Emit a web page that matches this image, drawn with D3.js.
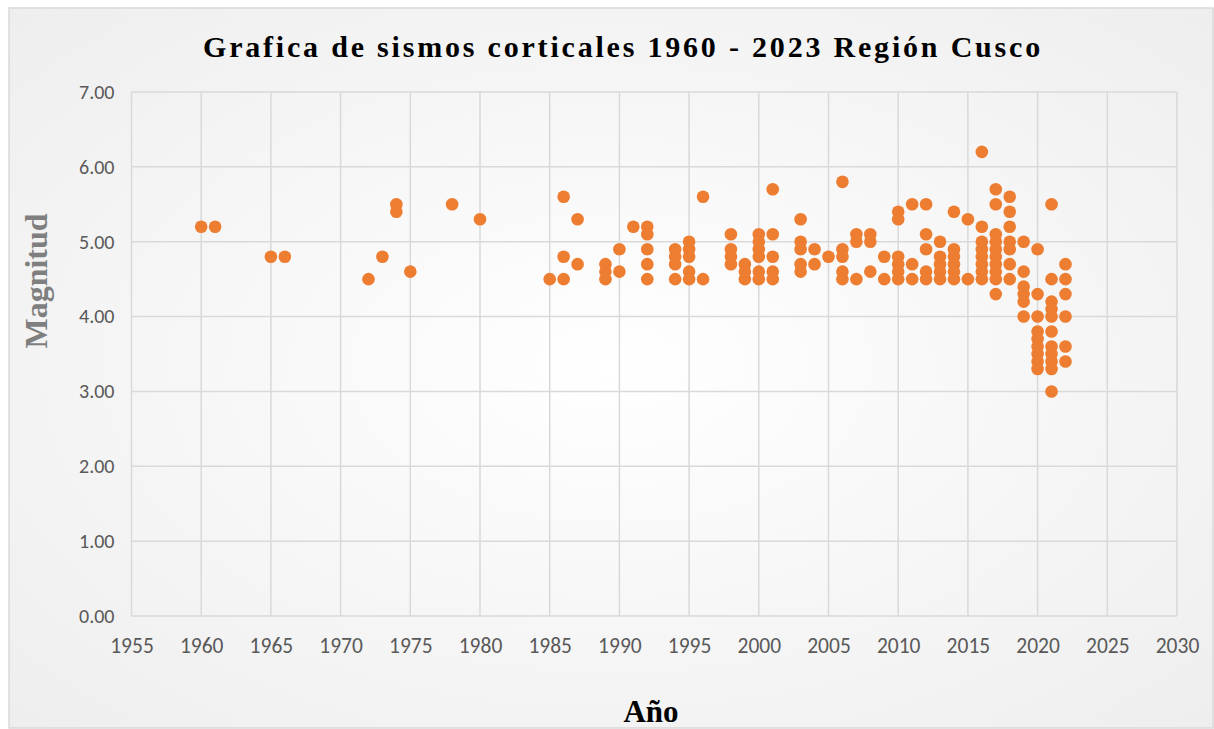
<!DOCTYPE html>
<html>
<head>
<meta charset="utf-8">
<script src="https://cdn.jsdelivr.net/npm/d3@7"></script>
<style>
  html, body { margin: 0; padding: 0; background: #fff; }
  svg { display: block; }
</style>
</head>
<body>
<svg id="chart"></svg>
<script>
// año y magnitud de cada sismo
const years = [
  1960, 1961, 1965, 1966, 1972, 1973, 1974, 1974, 1975, 1978, 1980,
  1985, 1986, 1986, 1986, 1987, 1987, 1989, 1989, 1989, 1990, 1990, 1991,
  1992, 1992, 1992, 1992, 1992, 1994, 1994, 1994, 1994,
  1995, 1995, 1995, 1995, 1995, 1996, 1996,
  1998, 1998, 1998, 1998, 1999, 1999, 1999,
  2000, 2000, 2000, 2000, 2000, 2000, 2001, 2001, 2001, 2001, 2001,
  2003, 2003, 2003, 2003, 2003, 2004, 2004, 2005,
  2006, 2006, 2006, 2006, 2006, 2007, 2007, 2007, 2008, 2008, 2008, 2009, 2009,
  2010, 2010, 2010, 2010, 2010, 2010, 2011, 2011, 2011,
  2012, 2012, 2012, 2012, 2012, 2013, 2013, 2013, 2013, 2013,
  2014, 2014, 2014, 2014, 2014, 2014, 2015, 2015,
  2016, 2016, 2016, 2016, 2016, 2016, 2016, 2016,
  2017, 2017, 2017, 2017, 2017, 2017, 2017, 2017, 2017, 2017,
  2018, 2018, 2018, 2018, 2018, 2018, 2018,
  2019, 2019, 2019, 2019, 2019, 2019,
  2020, 2020, 2020, 2020, 2020, 2020, 2020, 2020, 2020,
  2021, 2021, 2021, 2021, 2021, 2021, 2021, 2021, 2021, 2021, 2021,
  2022, 2022, 2022, 2022, 2022, 2022
];
const magnitudes = [
  5.2, 5.2, 4.8, 4.8, 4.5, 4.8, 5.5, 5.4, 4.6, 5.5, 5.3,
  4.5, 5.6, 4.8, 4.5, 5.3, 4.7, 4.7, 4.6, 4.5, 4.9, 4.6, 5.2,
  5.2, 5.1, 4.9, 4.7, 4.5, 4.9, 4.8, 4.7, 4.5,
  5.0, 4.9, 4.8, 4.6, 4.5, 5.6, 4.5,
  5.1, 4.9, 4.8, 4.7, 4.7, 4.6, 4.5,
  5.1, 5.0, 4.9, 4.8, 4.6, 4.5, 5.7, 5.1, 4.8, 4.6, 4.5,
  5.3, 5.0, 4.9, 4.7, 4.6, 4.9, 4.7, 4.8,
  5.8, 4.9, 4.8, 4.6, 4.5, 5.1, 5.0, 4.5, 5.1, 5.0, 4.6, 4.8, 4.5,
  5.4, 5.3, 4.8, 4.7, 4.6, 4.5, 5.5, 4.7, 4.5,
  5.5, 5.1, 4.9, 4.6, 4.5, 5.0, 4.8, 4.7, 4.6, 4.5,
  5.4, 4.9, 4.8, 4.7, 4.6, 4.5, 5.3, 4.5,
  6.2, 5.2, 5.0, 4.9, 4.8, 4.7, 4.6, 4.5,
  5.7, 5.5, 5.1, 5.0, 4.9, 4.8, 4.7, 4.6, 4.5, 4.3,
  5.6, 5.4, 5.2, 5.0, 4.9, 4.7, 4.5,
  5.0, 4.6, 4.4, 4.3, 4.2, 4.0,
  4.9, 4.3, 4.0, 3.8, 3.7, 3.6, 3.5, 3.4, 3.3,
  5.5, 4.5, 4.2, 4.1, 4.0, 3.8, 3.6, 3.5, 3.4, 3.3, 3.0,
  4.7, 4.5, 4.3, 4.0, 3.6, 3.4
];

const xTicks = [1955, 1960, 1965, 1970, 1975, 1980, 1985, 1990, 1995, 2000, 2005, 2010, 2015, 2020, 2025, 2030];
const yTicks = [0, 1, 2, 3, 4, 5, 6, 7];

const titleText = 'Grafica de sismos corticales 1960 - 2023 Región Cusco';
const xTitle = 'Año';
const yTitle = 'Magnitud';

const W = 1214, H = 729;
const margin = { top: 92, right: 37, bottom: 113, left: 131.5 };
const width = W - margin.left - margin.right;
const height = H - margin.top - margin.bottom;

const svg = d3.select('#chart')
    .attr('width', W)
    .attr('height', H);

// fondo con degradado suave
const defs = svg.append('defs');
const grad = defs.append('radialGradient')
    .attr('id', 'bg')
    .attr('cx', '50%').attr('cy', '50%').attr('r', '70%');
grad.append('stop').attr('offset', '0%').attr('stop-color', '#ffffff');
grad.append('stop').attr('offset', '100%').attr('stop-color', '#eeeeee');

svg.append('rect')
    .attr('x', 9).attr('y', 8)
    .attr('width', W - 10).attr('height', H - 9)
    .attr('fill', 'url(#bg)')
    .attr('stroke', '#d9d9d9')
    .attr('stroke-width', 1.5);

const g = svg.append('g')
    .attr('transform', `translate(${margin.left},${margin.top})`);

//scales
const xScale = d3.scaleLinear()
    .domain([1955, 2030])
    .range([0, width]);

const yScale = d3.scaleLinear()
    .domain([0, 7])
    .range([height, 0]);

// grid
g.append('g')
    .attr('class', 'grid-x')
    .selectAll('line')
    .data(xTicks)
    .enter()
    .append('line')
    .attr('x1', d => xScale(d))
    .attr('x2', d => xScale(d))
    .attr('y1', 0)
    .attr('y2', height)
    .attr('stroke', '#d9d9d9')
    .attr('stroke-width', 1.5);

g.append('g')
    .attr('class', 'grid-y')
    .selectAll('line')
    .data(yTicks)
    .enter()
    .append('line')
    .attr('x1', 0)
    .attr('x2', width)
    .attr('y1', d => yScale(d))
    .attr('y2', d => yScale(d))
    .attr('stroke', '#d9d9d9')
    .attr('stroke-width', 1.5);

//x-axis
const xAxis = g.append('g')
    .attr('class', 'x-axis')
    .attr('transform', `translate(0,${height})`)
    .call(d3.axisBottom(xScale).tickValues(xTicks).tickFormat(d3.format('d')).tickSize(0).tickPadding(22));
xAxis.select('.domain').remove();
xAxis.selectAll('text')
    .attr('fill', '#595959')
    .style('font-family', 'Carlito, "Liberation Sans", Arial, sans-serif')
    .style('font-size', '21.5px');

//y-axis
const yAxis = g.append('g')
    .attr('class', 'y-axis')
    .call(d3.axisLeft(yScale).tickValues(yTicks).tickFormat(d3.format('.2f')).tickSize(0).tickPadding(17));
yAxis.select('.domain').remove();
yAxis.selectAll('text')
    .attr('fill', '#595959')
    .style('font-family', 'Carlito, "Liberation Sans", Arial, sans-serif')
    .style('font-size', '20px');

// points
g.append('g')
    .selectAll('circle')
    .data(years.map((y, i) => ({ year: y, mag: magnitudes[i] })))
    .enter()
    .append('circle')
    .attr('cx', d => xScale(d.year))
    .attr('cy', d => yScale(d.mag))
    .attr('r', 6.3)
    .attr('fill', '#ed7d31');

//chart title
svg.append('text')
    .attr('x', 623)
    .attr('y', 57)
    .style('text-anchor', 'middle')
    .style('font-family', '"Liberation Serif", "Times New Roman", serif')
    .style('font-weight', 'bold')
    .style('font-size', '30px')
    .style('letter-spacing', '2.8px')
    .attr('fill', '#000')
    .text(titleText);

//axis labels
svg.append('text')
    .attr('x', 651)
    .attr('y', 722)
    .style('text-anchor', 'middle')
    .style('font-family', '"Liberation Serif", "Times New Roman", serif')
    .style('font-weight', 'bold')
    .style('font-size', '31px')
    .attr('fill', '#000')
    .text(xTitle);

svg.append('text')
    .attr('transform', 'translate(47,281) rotate(-90)')
    .style('text-anchor', 'middle')
    .style('font-family', '"Liberation Serif", "Times New Roman", serif')
    .style('font-weight', 'bold')
    .style('font-size', '32px')
    .attr('fill', '#7f7f7f')
    .text(yTitle);
</script>
</body>
</html>
